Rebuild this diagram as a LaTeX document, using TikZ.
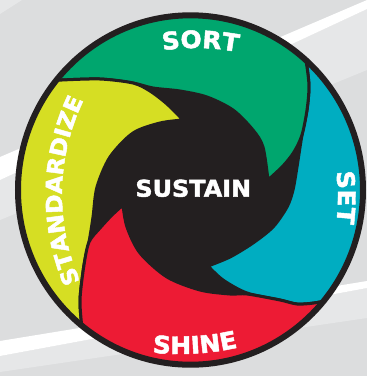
\documentclass[tikz,border=0pt]{standalone}
\usepackage{fontspec}
\newfontfamily\hb{DejaVu Sans Bold}[FakeStretch=1.04, FakeBold=2]
\usetikzlibrary{decorations.text}
\definecolor{bggray}{HTML}{DCDDDE}
\definecolor{bglight}{HTML}{E6E7E8}
\definecolor{ink}{HTML}{231F20}
\definecolor{pgreen}{HTML}{00A66E}
\definecolor{pcyan}{HTML}{00ADC1}
\definecolor{pyellow}{HTML}{D6DE23}
\definecolor{pred}{HTML}{ED1B34}
\newcommand\lblfont{\hb\fontsize{24}{24}\selectfont}
\newcommand\stdfont{\hb\fontsize{22.5}{22.5}\selectfont}
\newcommand\midfont{\hb\fontsize{23}{23}\selectfont}
\begin{document}
\begin{tikzpicture}[x=1pt,y=-1pt,
  petal/.style={draw=ink, line width=3pt, line join=round},
  curvedlabel/.style={decorate, decoration={text along path, text align=center, text color=white, text={#1}}}]
\useasboundingbox (0,0) rectangle (367,376);
% background
\fill[bggray] (0,0) rectangle (367,376);
\fill[bglight] (0,0) -- (22,0) -- (0,14) -- cycle;
\fill[bglight] (0,180) -- (367,9) -- (367,70) -- (0,220) -- cycle;
\fill[white] (0,157) -- (367,0) -- (367,9) -- (0,180) -- cycle;
\fill[bglight] (0,356) -- (367,288) -- (367,318) -- (0,372) -- cycle;
\fill[white] (0,341) -- (367,281) -- (367,288) -- (0,356) -- cycle;
% disc
\begin{scope}
\clip (190.5,190) ellipse [x radius=172.5, y radius=174.7];
\fill[ink] (190.5,190) ellipse [x radius=173, y radius=175];
% cyan (SET)
\filldraw[petal, fill=pcyan] (300,28) -- ([shift={(190.5,190)}]-52:240) -- ([shift={(190.5,190)}]-8:240) -- ([shift={(190.5,190)}]37:240) -- (355,295)
  -- plot[smooth] coordinates {(335,299) (314,303) (297,304) (280,300) (247,293) (223,280) (208,266)}
  -- plot[smooth] coordinates {(208,266) (230,257) (253,243) (273,227) (287,207) (293,190) (297,167) (302,135) (307,110) (309,87) (307,67) (303,45)}
  -- cycle;
% green (SORT)
\filldraw[petal, fill=pgreen] (40,81) -- ([shift={(190.5,190)}]-139:240) -- ([shift={(190.5,190)}]-95:240) -- ([shift={(190.5,190)}]-52:240) -- (300,28)
  -- plot[smooth] coordinates {(303,45) (307,67) (309,87) (307,110) (302,135) (294,152) (283,166) (268,180)}
  -- plot[smooth] coordinates {(268,180) (263,147) (253,130) (233,110) (207,97) (180,91) (153,88) (133,83) (100,79) (62,80)}
  -- cycle;
% yellow (STANDARDIZE)
\filldraw[petal, fill=pyellow] (83.5,348) -- ([shift={(190.5,190)}]128:240) -- ([shift={(190.5,190)}]175:240) -- ([shift={(190.5,190)}]221:240) -- (40,81)
  -- plot[smooth] coordinates {(62,80) (100,79) (133,83) (150,91) (167,104) (183,120)}
  -- plot[smooth] coordinates {(183,120) (160,123) (133,133) (110,157) (97,187) (93,217) (89,242) (84,265) (80,300) (82,328)}
  -- cycle;
% red (SHINE)
\filldraw[petal, fill=pred] (355,295) -- ([shift={(190.5,190)}]37:240) -- ([shift={(190.5,190)}]83:240) -- ([shift={(190.5,190)}]128:240) -- (83.5,348)
  -- plot[smooth] coordinates {(82,328) (80,300) (84,265) (89,242) (100,228) (112,215) (123,205)}
  -- plot[smooth] coordinates {(123,205) (127,227) (140,253) (167,277) (200,290) (230,294) (247,294) (280,300) (297,304) (314,303) (335,299)}
  -- cycle;
\end{scope}
\draw[ink, line width=6pt] (190.5,190) ellipse [x radius=172.5, y radius=174.7];
% labels
\path[curvedlabel={|\lblfont|SORT}] ([shift={(195,278)}]-108.67:230) arc[start angle=-108.67, end angle=-68.67, radius=230];
\path[curvedlabel={|\lblfont|SET}] ([shift={(138,197.5)}]-20:200) arc[start angle=-20, end angle=20, radius=200];
\path[curvedlabel={|\lblfont|SHINE}] ([shift={(180,94)}]106.6:260) arc[start angle=106.6, end angle=66.6, radius=260];
\path[curvedlabel={|\stdfont|STANDARDIZE}] ([shift={(278.8,194.6)}]141.1:216.8) arc[start angle=141.1, end angle=221.1, radius=216.8];
\node[text=white, font=\midfont, inner sep=0pt] (sustain) at (193.3,188.3) {SUSTAIN};
\end{tikzpicture}
\end{document}
